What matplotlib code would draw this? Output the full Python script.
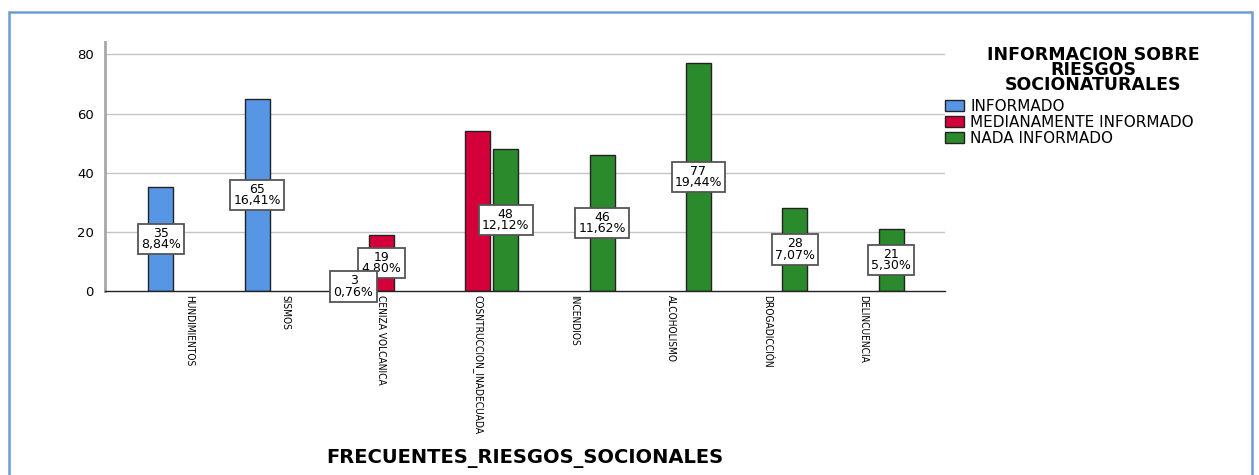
import numpy as np
import matplotlib
matplotlib.use("Agg")
import matplotlib.pyplot as plt
from matplotlib.patches import Rectangle, Patch

categories = ["HUNDIMIENTOS", "SISMOS", "CENIZA VOLCANICA", "COSNTRUCCION_INADECUADA",
              "INCENDIOS", "ALCOHOLISMO", "DROGADICCIÓN", "DELINCUENCIA"]
series_names = ["INFORMADO", "MEDIANAMENTE INFORMADO", "NADA INFORMADO"]
nan = np.nan
informado = [35, 65, 3, nan, nan, nan, nan, nan]
medianamente = [nan, nan, 19, 54, nan, nan, nan, nan]
nada = [nan, nan, nan, 48, 46, 77, 28, 21]
colors = ["#5796E4", "#D4003A", "#2B8A2B"]
unlabeled = [("MEDIANAMENTE INFORMADO", "COSNTRUCCION_INADECUADA")]
legend_title = "INFORMACION SOBRE\nRIESGOS\nSOCIONATURALES"
xlabel = "FRECUENTES_RIESGOS_SOCIONALES"
yticks = [0, 20, 40, 60, 80]

W, H = 1259, 475
fig = plt.figure(figsize=(W / 100, H / 100), dpi=100)
fig.patch.set_facecolor("white")
ax = fig.add_axes([105 / W, 1 - 291 / H, (945 - 105) / W, (291 - 42) / H])

values = [informado, medianamente, nada]
total = np.nansum(np.array(values, dtype=float))
x = np.arange(len(categories))
offsets = [-0.29, 0.0, 0.29]
width = 0.26

for si, (vals, name, col, off) in enumerate(zip(values, series_names, colors, offsets)):
    v = np.array(vals, dtype=float)
    mask = ~np.isnan(v)
    ax.bar(x[mask] + off, v[mask], width=width, color=col, edgecolor="#222222",
           linewidth=1.0, zorder=2)
    for xi, vi, cat in zip(x[mask], v[mask], np.array(categories)[mask]):
        if (name, cat) in unlabeled:
            continue
        pct = f"{vi / total * 100:.2f}".replace(".", ",")
        ax.text(xi + off, vi / 2, f"{int(vi)}\n{pct}%", ha="center", va="center",
                fontsize=9, family="DejaVu Sans", linespacing=0.82, zorder=8 - si,
                bbox=dict(boxstyle="square,pad=0.25", facecolor="white",
                          edgecolor="#555555", linewidth=1.3))

ax.set_xlim(-0.87, 7.85)
ax.set_ylim(0, 84.2)
ax.set_yticks(yticks)
ax.set_yticklabels([str(t) for t in yticks], fontsize=9.5, family="DejaVu Sans")
ax.tick_params(axis="y", length=0, pad=8)
ax.set_xticks(x)
ax.set_xticklabels(categories, rotation=270, ha="center", va="top",
                   fontsize=7.3, family="DejaVu Sans", fontstretch="condensed")
ax.tick_params(axis="x", length=0, pad=3)
ax.set_axisbelow(True)
for t in yticks[1:]:
    ax.axhline(t, color="#c4c4c4", linewidth=1.0, zorder=0)
for s in ["top", "right"]:
    ax.spines[s].set_visible(False)
ax.spines["left"].set_color("#a8a8a8")
ax.spines["left"].set_linewidth(2.0)
ax.spines["bottom"].set_color("#222222")
ax.spines["bottom"].set_linewidth(1.0)

fig.text(525 / W, 1 - 459 / H, xlabel, ha="center", va="center",
         fontsize=14, fontweight="bold", family="DejaVu Sans")

fig.text(1093 / W, 1 - 70 / H, legend_title, ha="center", va="center",
         fontsize=12.5, fontweight="heavy", family="DejaVu Sans", linespacing=0.82)

handles = [Patch(facecolor=c, edgecolor="#222222", linewidth=1.0) for c in colors]
leg = fig.legend(handles, series_names, loc="upper left",
                 bbox_to_anchor=(945 / W, 1 - 99 / H), frameon=False,
                 prop=dict(family="DejaVu Sans", size=11), handlelength=1.25,
                 handleheight=0.75, handletextpad=0.4, labelspacing=0.05,
                 borderpad=0, borderaxespad=0)

fig.patches.append(Rectangle((8.5 / W, -0.2), (1252 - 8.5) / W, 1.2 - 11.5 / H,
                             transform=fig.transFigure, fill=False,
                             edgecolor="#6f9bd4", linewidth=1.8, zorder=10))

fig.savefig("out.png", dpi=100, facecolor="white")
